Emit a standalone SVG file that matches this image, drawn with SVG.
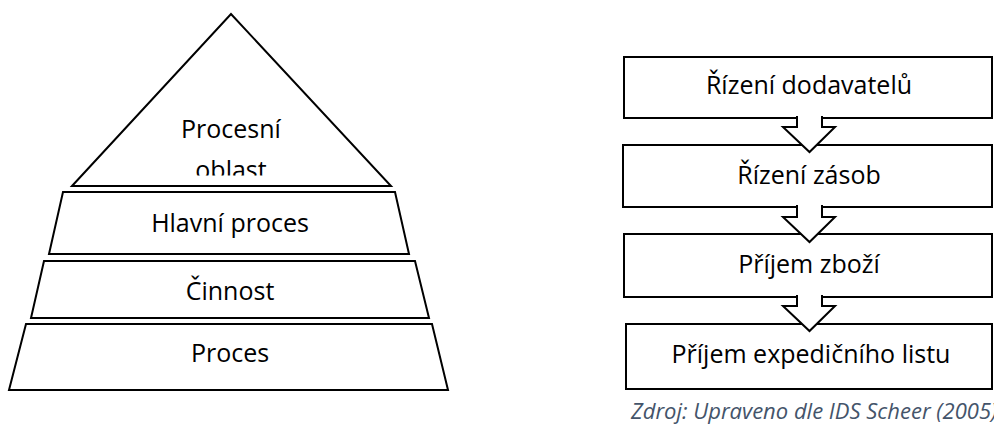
<svg xmlns="http://www.w3.org/2000/svg" width="994" height="426" viewBox="0 0 994 426">
  <style>
    .shape { fill: #ffffff; stroke: #000000; stroke-width: 2; }
    .label { font-family: "Open Sans", "Liberation Sans", sans-serif; font-size: 25px; fill: #000000; text-anchor: middle; }
    .arrow { fill: #ffffff; stroke: #000000; stroke-width: 2; }
    .source { font-family: "Open Sans", "Liberation Sans", sans-serif; font-size: 22px; font-style: italic; fill: #44546A; }
  </style>
  <defs>
    <clipPath id="apexTextClip">
      <rect x="60" y="10" width="340" height="165.5"/>
    </clipPath>
  </defs>
  <rect x="0" y="0" width="994" height="426" fill="#ffffff"/>

  <!-- Pyramid of process levels -->
  <g id="procesni-oblast">
    <polygon class="shape" points="72,186 231,14 391,186"/>
    <g clip-path="url(#apexTextClip)">
      <text class="label" x="231" y="138">Procesní</text>
      <text class="label" x="231" y="179">oblast</text>
    </g>
  </g>
  <g id="hlavni-proces">
    <polygon class="shape" points="63,192 395,192 409,254 49,254"/>
    <text class="label" x="230" y="232">Hlavní proces</text>
  </g>
  <g id="cinnost">
    <polygon class="shape" points="44,261 415,261 429,318 31,318"/>
    <text class="label" x="230" y="300">Činnost</text>
  </g>
  <g id="proces">
    <polygon class="shape" points="26,324 432,324 448,390 9,390"/>
    <text class="label" x="230" y="362">Proces</text>
  </g>

  <!-- Process chain -->
  <g id="rizeni-dodavatelu">
    <rect class="shape" x="624" y="57" width="368" height="61"/>
    <text class="label" x="809" y="94">Řízení dodavatelů</text>
  </g>
  <g id="rizeni-zasob">
    <rect class="shape" x="623" y="145" width="369" height="62"/>
    <text class="label" x="809" y="184">Řízení zásob</text>
  </g>
  <g id="prijem-zbozi">
    <rect class="shape" x="624" y="234" width="368" height="63"/>
    <text class="label" x="809" y="273">Příjem zboží</text>
  </g>
  <g id="prijem-expedicniho-listu">
    <rect class="shape" x="626" y="324" width="366" height="65"/>
    <text class="label" x="811" y="363">Příjem expedičního listu</text>
  </g>

  <!-- Block arrows between steps (open at the top so they merge into the box above) -->
  <g id="connectors">
    <path class="arrow" d="M797,116 L797,127 L783,127 L809.5,152 L835,127 L822,127 L822,116"/>
    <path class="arrow" d="M797,205 L797,217 L783,217 L809.5,242 L835,217 L822,217 L822,205"/>
    <path class="arrow" d="M797,295 L797,306 L783,306 L809.5,331 L835,306 L822,306 L822,295"/>
  </g>

  <text class="source" x="631" y="419">Zdroj: Upraveno dle IDS Scheer (2005)</text>
</svg>
